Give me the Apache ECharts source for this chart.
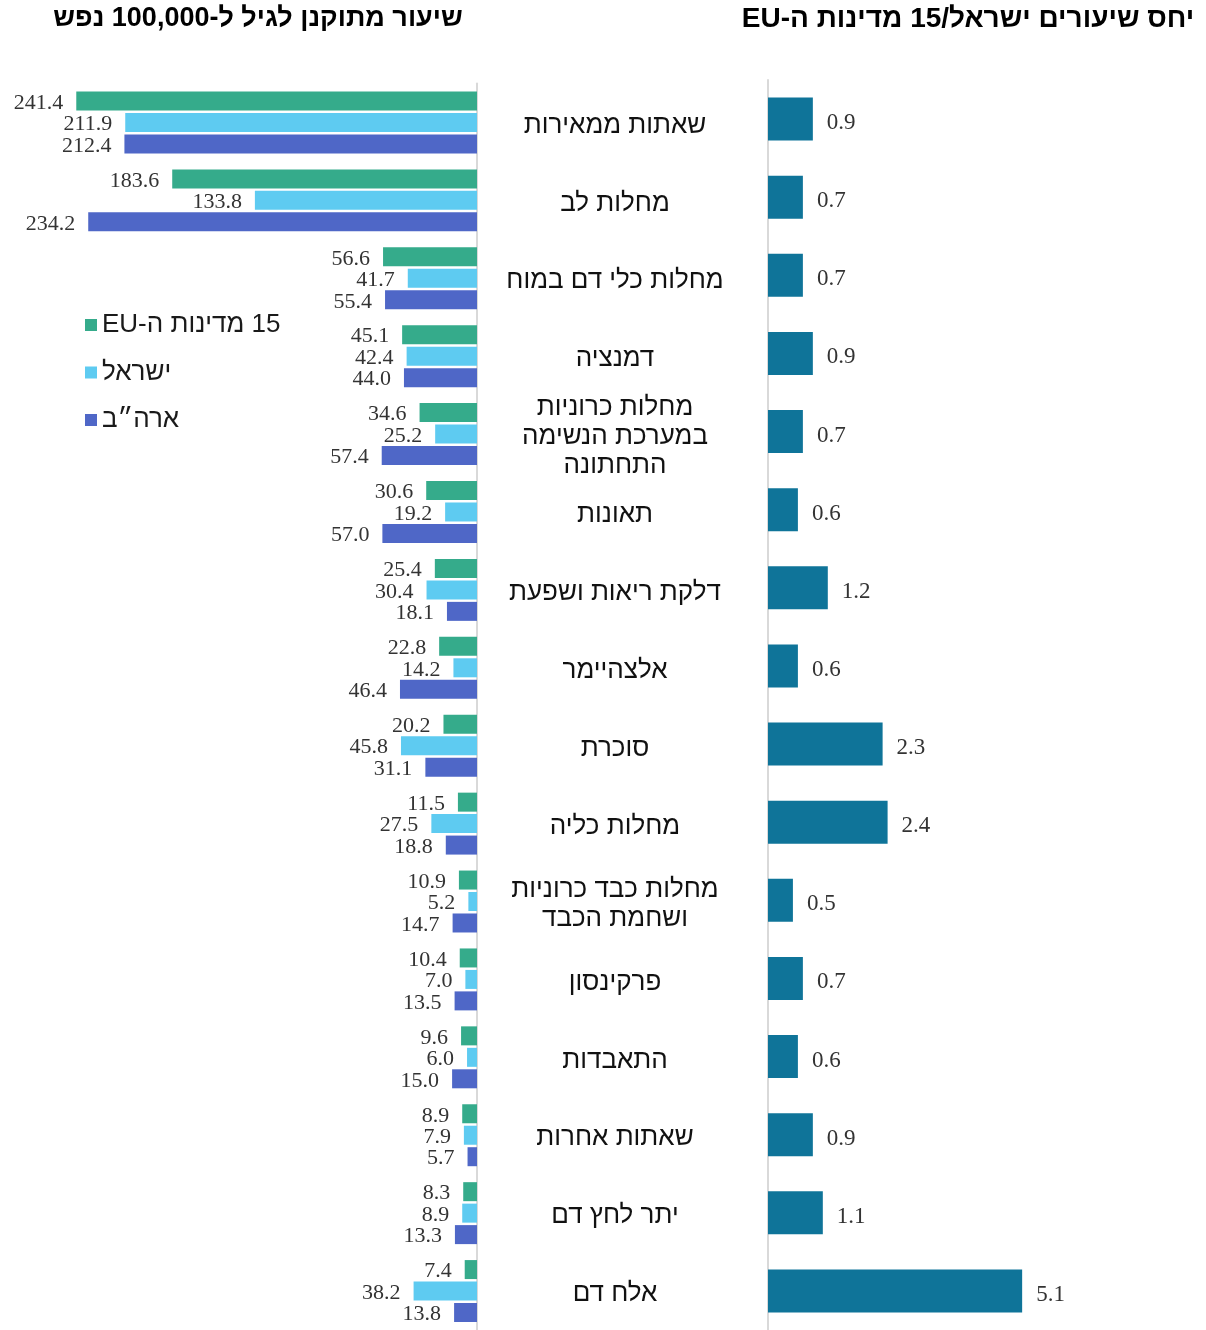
<!DOCTYPE html>
<html lang="he">
<head>
<meta charset="utf-8">
<title>שיעורי תמותה לפי סיבות מוות</title>
<script src="https://cdn.jsdelivr.net/npm/echarts@6/dist/echarts.min.js"></script>
<style>
  html, body { margin: 0; padding: 0; background: #ffffff; }
  #chart { width: 1206px; height: 1330px; }
</style>
</head>
<body>
<div id="chart" dir="rtl"></div>
<script>
// Causes of death (top to bottom)
const categories = [
  'שאתות ממאירות',
  'מחלות לב',
  'מחלות כלי דם במוח',
  'דמנציה',
  'מחלות כרוניות\nבמערכת הנשימה\nהתחתונה',
  'תאונות',
  'דלקת ריאות ושפעת',
  'אלצהיימר',
  'סוכרת',
  'מחלות כליה',
  'מחלות כבד כרוניות\nושחמת הכבד',
  'פרקינסון',
  'התאבדות',
  'שאתות אחרות',
  'יתר לחץ דם',
  'אלח דם'
];

// Age-adjusted rate per 100,000
const seriesNames = ['15 מדינות ה-EU', 'ישראל', 'ארה״ב'];
const euRates     = [241.4, 183.6, 56.6, 45.1, 34.6, 30.6, 25.4, 22.8, 20.2, 11.5, 10.9, 10.4, 9.6, 8.9, 8.3, 7.4];
const israelRates = [211.9, 133.8, 41.7, 42.4, 25.2, 19.2, 30.4, 14.2, 45.8, 27.5, 5.2, 7.0, 6.0, 7.9, 8.9, 38.2];
const usRates     = [212.4, 234.2, 55.4, 44.0, 57.4, 57.0, 18.1, 46.4, 31.1, 18.8, 14.7, 13.5, 15.0, 5.7, 13.3, 13.8];

// Israel / EU-15 rate ratio
const ratios = [0.9, 0.7, 0.7, 0.9, 0.7, 0.6, 1.2, 0.6, 2.3, 2.4, 0.5, 0.7, 0.6, 0.9, 1.1, 5.1];

const titles = ['שיעור מתוקנן לגיל ל-100,000 נפש', 'יחס שיעורים ישראל/15 מדינות ה-EU'];

const colors = ['#35ab8b', '#5ecbf1', '#4f67c7'];
const ratioColor = '#0f7499';
const numFont = "'Liberation Serif', 'Times New Roman', serif";
const hebFont = "'Liberation Sans', Arial, 'DejaVu Sans', sans-serif";
const axisGray = '#d9d9d9';

const chart = echarts.init(document.getElementById('chart'), null, { renderer: 'canvas' });

const rateSeries = [euRates, israelRates, usRates].map((vals, i) => ({
  name: seriesNames[i],
  type: 'bar',
  xAxisIndex: 0,
  yAxisIndex: 0,
  data: vals,
  barWidth: 19,
  barGap: '13%',
  itemStyle: { color: colors[i] },
  label: {
    show: true,
    position: 'left',
    distance: 13,
    offset: [0, 2],
    fontFamily: numFont,
    fontSize: 22,
    color: '#333333',
    formatter: p => p.value.toFixed(1)
  },
  emphasis: { disabled: true }
}));

const option = {
  animation: false,
  backgroundColor: '#ffffff',
  graphic: [
    {
      type: 'text',
      style: {
        x: 258, y: 19, text: titles[0], textAlign: 'center', textVerticalAlign: 'middle',
        font: "bold 27px " + hebFont, fill: '#000000'
      }
    },
    {
      type: 'text',
      style: {
        x: 968, y: 19, text: titles[1], textAlign: 'center', textVerticalAlign: 'middle',
        font: "bold 28px " + hebFont, fill: '#000000'
      }
    }
  ],
  legend: {
    orient: 'vertical',
    left: 80,
    top: 307,
    icon: 'rect',
    itemWidth: 12,
    itemHeight: 12,
    itemGap: 21.5,
    data: seriesNames,
    textStyle: { fontFamily: hebFont, fontSize: 26, lineHeight: 24, color: '#1a1a1a' },
    selectedMode: false
  },
  grid: [
    { left: 62, top: 83.5, width: 415, height: 1246.5 },
    { left: 768, top: 80, width: 299, height: 1255 }
  ],
  xAxis: [
    { gridIndex: 0, type: 'value', min: 0, max: 250, inverse: true, show: false },
    { gridIndex: 1, type: 'value', min: 0, max: 6, show: false }
  ],
  yAxis: [
    {
      gridIndex: 0, type: 'category', data: categories, inverse: true, position: 'right',
      axisLine: { show: true, onZero: false, lineStyle: { color: axisGray, width: 2 } },
      axisTick: { show: false }, splitLine: { show: false },
      axisLabel: {
        margin: 138, align: 'center', fontFamily: hebFont, fontSize: 26,
        lineHeight: 29, color: '#111111',
        // nudge the category names slightly below the band centre
        formatter: v => v.split('\n').map(line => '{c|' + line + '}').join('\n'),
        rich: {
          c: { fontFamily: hebFont, fontSize: 26, lineHeight: 29, color: '#111111', padding: [6, 0, 0, 0] }
        }
      }
    },
    {
      gridIndex: 1, type: 'category', data: categories, inverse: true, position: 'left',
      axisLine: { show: true, onZero: false, lineStyle: { color: axisGray, width: 2 } },
      axisTick: { show: false }, axisLabel: { show: false }, splitLine: { show: false }
    }
  ],
  series: rateSeries.concat([{
    name: 'יחס',
    type: 'bar',
    xAxisIndex: 1,
    yAxisIndex: 1,
    data: ratios,
    barWidth: 43,
    itemStyle: { color: ratioColor },
    label: {
      show: true,
      position: 'right',
      distance: 14,
      offset: [0, 4],
      fontFamily: numFont,
      fontSize: 23,
      color: '#333333',
      formatter: p => p.value.toFixed(1)
    },
    emphasis: { disabled: true }
  }])
};

chart.setOption(option);
</script>
</body>
</html>
